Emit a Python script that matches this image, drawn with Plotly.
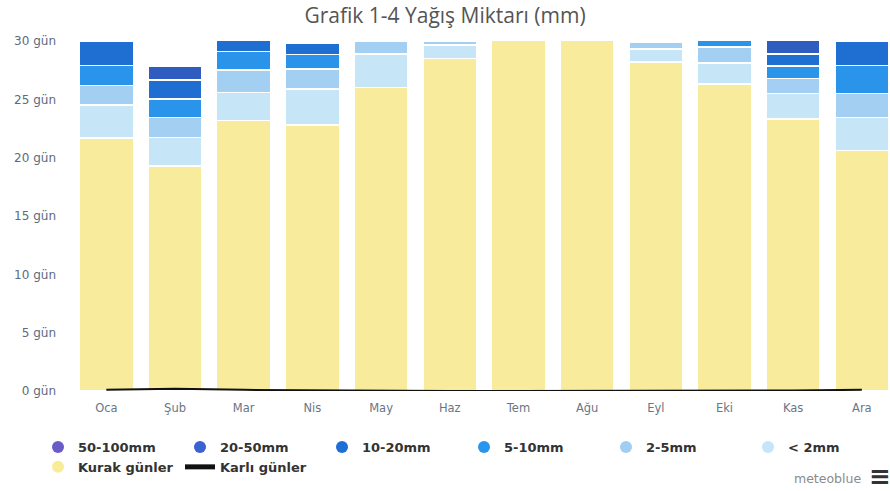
import plotly.graph_objects as go

months = ["Oca", "Şub", "Mar", "Nis", "May", "Haz", "Tem", "Ağu", "Eyl", "Eki", "Kas", "Ara"]
kurak = [21.7, 19.3, 23.2, 22.8, 26.0, 28.5, 31, 31, 28.2, 26.3, 23.3, 20.6]
lt2 = [2.8, 2.45, 2.4, 3.1, 2.9, 1.15, 0, 0, 1.1, 1.8, 2.2, 2.85]
mm2_5 = [1.7, 1.7, 1.9, 1.7, 1.1, 0.35, 0, 0, 0.6, 1.4, 1.3, 2.05]
mm5_10 = [1.7, 1.6, 1.6, 1.25, 0.6, 0, 0, 0, 0.1, 0.8, 1.05, 2.4]
mm10_20 = [2.1, 1.6, 1.5, 1.0, 0.3, 0, 0, 0, 0.05, 0.5, 1.05, 2.05]
mm20_50 = [0.8, 1.2, 0.4, 0.15, 0.1, 0, 0, 0, 0, 0.2, 1.2, 0.85]
mm50_100 = [0.2, 0.15, 0, 0, 0, 0, 0, 0, 0, 0, 0, 0.2]
snow = [0.1, 0.2, 0.1, 0.05, 0, 0, 0, 0, 0, 0, 0.05, 0.1]

y_ticks = [0, 5, 10, 15, 20, 25, 30]
y_labels = [f"{v} gün" for v in y_ticks]

series = [
    ("Kurak günler", kurak, "#f8ec9c"),
    ("< 2mm", lt2, "#c6e5f7"),
    ("2-5mm", mm2_5, "#a3cff2"),
    ("5-10mm", mm5_10, "#2a93ea"),
    ("10-20mm", mm10_20, "#1f6fd2"),
    ("20-50mm", mm20_50, "#2f5cc0"),
    ("50-100mm", mm50_100, "#6456c2"),
]

legend_order = ["50-100mm", "20-50mm", "10-20mm", "5-10mm", "2-5mm", "< 2mm", "Kurak günler"]
legend_colors = {
    "50-100mm": "#6a5cc8",
    "20-50mm": "#3a62d0",
    "10-20mm": "#1d6fd6",
    "5-10mm": "#2a95ef",
    "2-5mm": "#9fcdf3",
    "< 2mm": "#c5e5f8",
    "Kurak günler": "#f8ec9a",
}

fig = go.Figure()

for name, vals, color in series:
    fig.add_trace(go.Bar(
        x=months,
        y=[v if v > 0 else None for v in vals],
        name=name,
        marker=dict(color=color, line=dict(color="white", width=1.5)),
        showlegend=False,
        hoverinfo="skip",
    ))

for name in legend_order:
    fig.add_trace(go.Scatter(
        x=[None], y=[None], mode="markers", name=name,
        marker=dict(symbol="circle", size=12, color=legend_colors[name]),
    ))

fig.add_trace(go.Scatter(
    x=months, y=snow, mode="lines", name="Karlı günler",
    line=dict(color="#111111", width=2),
    hoverinfo="skip",
))

L, R, T, B = 72, 0, 41, 100
W, H = 890, 491
pw = W - L - R
ph = H - T - B


def px_x(sx):
    return (sx - L) / pw


def px_y(sy):
    return (H - B - sy) / ph


fig.update_layout(
    width=W, height=H,
    margin=dict(l=L, r=R, t=T, b=B),
    paper_bgcolor="white", plot_bgcolor="white",
    barmode="stack", bargap=0.214,
    title=dict(text="Grafik 1-4 Yağış Miktarı (mm)", x=0.5, xref="container",
               xanchor="center", y=1 - 16 / H, yanchor="middle",
               font=dict(family="Open Sans", size=21, color="#555555")),
    font=dict(family="Open Sans"),
    showlegend=True,
    legend=dict(
        orientation="h", x=px_x(50), xanchor="left", y=px_y(432), yanchor="top",
        entrywidth=97, entrywidthmode="pixels",
        font=dict(family="DejaVu Sans", size=13, color="#333333", weight="bold"),
        itemsizing="constant", traceorder="normal",
        tracegroupgap=0,
    ),
    xaxis=dict(
        range=[-0.5, 11.41], showgrid=False, zeroline=False, showline=False,
        ticks="", tickfont=dict(family="DejaVu Sans", size=11.5, color="#6a7585"),
        ticklabelstandoff=8, fixedrange=True,
    ),
    yaxis=dict(
        range=[0, 30], showgrid=False, zeroline=False, showline=False,
        tickvals=y_ticks, ticktext=y_labels, ticks="",
        tickfont=dict(family="DejaVu Sans", size=12, color="#5b6b80"),
        ticklabelstandoff=15, fixedrange=True,
    ),
    annotations=[
        dict(text="meteoblue", xref="paper", yref="paper", x=px_x(863), y=px_y(478),
             xanchor="right", yanchor="middle", showarrow=False,
             font=dict(family="DejaVu Sans", size=12.5, color="#8a8a8a")),
        dict(text="<b>≡</b>", xref="paper", yref="paper", x=px_x(880), y=px_y(476),
             xanchor="center", yanchor="middle", showarrow=False,
             font=dict(family="DejaVu Sans", size=26, color="#333333")),
    ],
)

fig.write_html(
    "out.html",
    config={"displayModeBar": False},
    post_script="document.body.style.margin='0';document.body.style.padding='0';",
)
